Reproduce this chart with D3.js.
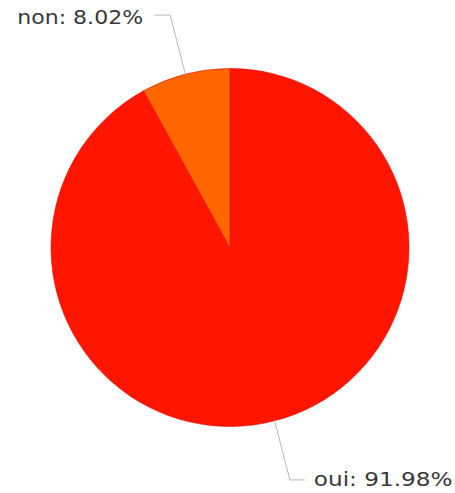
<!DOCTYPE html>
<html>
<head>
<meta charset="utf-8">
<script src="https://cdn.jsdelivr.net/npm/d3@7/dist/d3.min.js"></script>
<style>
  html, body { margin: 0; padding: 0; background: #fff; }
  svg { display: block; }
</style>
</head>
<body>
<script>
// Survey answers and their shares (percent)
const categories = ["oui", "non"];
const shares = [91.98, 8.02];
const colors = ["#ff1500", "#ff6600"];

const width = 455, height = 493;
const cx = 230, cy = 247.5, radius = 179;

const svg = d3.select("body").append("svg")
  .attr("width", width).attr("height", height);

const data = categories.map((c, i) => ({ name: c, value: shares[i], color: colors[i] }));

const pie = d3.pie().value(d => d.value).sort(null);
const arc = d3.arc().innerRadius(0).outerRadius(radius);

const g = svg.append("g").attr("transform", `translate(${cx},${cy})`);

const arcs = pie(data);

g.selectAll("path.slice")
  .data(arcs)
  .join("path")
  .attr("class", "slice")
  .attr("d", arc)
  .attr("fill", d => d.data.color)
  .attr("stroke", "#e01000")
  .attr("stroke-width", 0.6);

// Leader lines with an elbow, then the label text
const lineColor = "#b8b8b8";
const labelFont = "Verdana, 'DejaVu Sans', sans-serif";

arcs.forEach(d => {
  const mid = (d.startAngle + d.endAngle) / 2;
  const sx = Math.sin(mid), sy = -Math.cos(mid);
  const p0 = [sx * (radius - 1), sy * (radius - 1)];
  const p1 = [sx * (radius + 61), sy * (radius + 61)];
  const right = sx >= 0;
  const p2 = [p1[0] + (right ? 15 : -16), p1[1]];
  g.append("polyline")
    .attr("points", [p0, p1, p2].map(p => p.join(",")).join(" "))
    .attr("fill", "none")
    .attr("stroke", lineColor)
    .attr("stroke-width", 1);
  const label = `${d.data.name}: ${d.data.value.toFixed(2)}%`;
  g.append("text")
    .attr("x", p2[0] + (right ? 9 : -11))
    .attr("y", p2[1] + (right ? -1 : 2.5))
    .attr("dy", "0.35em")
    .attr("text-anchor", right ? "start" : "end")
    .attr("font-family", labelFont)
    .attr("font-size", 19.5)
    .attr("fill", "#383838")
    .attr("textLength", label.length * 12.6)
    .attr("lengthAdjust", "spacingAndGlyphs")
    .text(label);
});
</script>
</body>
</html>
